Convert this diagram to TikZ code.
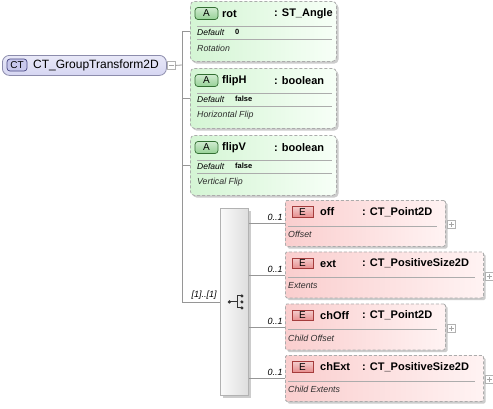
\documentclass[tikz,border=0pt]{standalone}
\usepackage{fontspec}
\setmainfont{Liberation Sans}
\usetikzlibrary{positioning,calc}
\definecolor{rootFill}{RGB}{214,214,242}
\definecolor{rootLine}{RGB}{140,140,172}
\definecolor{ctBadge}{RGB}{200,200,236}
\definecolor{ctLine}{RGB}{70,70,130}
\definecolor{attrL}{RGB}{212,245,212}
\definecolor{attrR}{RGB}{247,255,247}
\definecolor{aBadge}{RGB}{150,210,150}
\definecolor{aLine}{RGB}{50,110,50}
\definecolor{elemL}{RGB}{250,206,206}
\definecolor{elemR}{RGB}{255,243,243}
\definecolor{eBadge}{RGB}{230,140,140}
\definecolor{eLine}{RGB}{165,60,60}
\definecolor{frameLn}{RGB}{172,172,172}
\definecolor{wireLn}{RGB}{150,150,150}
\definecolor{descTxt}{RGB}{45,45,45}
\tikzset{
  wire/.style={line width=0.8pt, wireLn},
  framebox/.style={draw=frameLn, dash pattern=on 3pt off 2pt, line width=0.8pt, inner sep=0pt, anchor=north west},
  attrframe/.style={framebox, rounded corners=4pt, left color=attrL, right color=attrR, minimum width=146pt, minimum height=60pt},
  elemframe/.style={framebox, rounded corners=1.5pt, left color=elemL, right color=elemR, minimum height=46pt},
  boxshadow/.style={fill=black!20},
  sepline/.style={line width=0.6pt, gray!65},
  headtxt/.style={font=\fontsize{11}{13}\selectfont\bfseries, inner sep=0pt, anchor=west},
  dflttxt/.style={font=\fontsize{8.5}{10}\selectfont\itshape, inner sep=0pt, anchor=west},
  valtxt/.style={font=\fontsize{7.5}{9}\selectfont\bfseries, inner sep=0pt, anchor=west},
  desctxt/.style={font=\fontsize{8.8}{10}\selectfont\itshape, descTxt, inner sep=0pt, anchor=west},
  multtxt/.style={font=\fontsize{9}{10}\selectfont\itshape, text=black, inner sep=2pt},
  abadge/.style={draw=aLine, line width=0.7pt, top color=white!55!aBadge, bottom color=aBadge,
    rounded corners=3pt, minimum width=23pt, minimum height=12pt, inner sep=0pt, font=\fontsize{10}{11}\selectfont},
  ebadge/.style={draw=eLine, line width=0.7pt, top color=white!55!eBadge, bottom color=eBadge,
    minimum width=21pt, minimum height=10.5pt, inner sep=0pt, font=\fontsize{10}{11}\selectfont},
  plusbox/.style={draw=gray!60, fill=white, line width=0.6pt, minimum size=8pt, inner sep=0pt},
}
% attribute box: id, top, name, type, default, description
\newcommand{\attrbox}[6]{%
  \begin{scope}[shift={(190,#2)}]
    \fill[boxshadow, rounded corners=4pt] (2.5,2.5) rectangle (148.5,62.5);
    \node[attrframe] (#1) at (0,0) {};
    \node[abadge] (#1-tag) at (16.5,12.5) {A};
    \node[headtxt] (#1-name) at (32,12.5) {#3};
    \node[headtxt] (#1-type) at (84,12.5) {: #4};
    \draw[sepline] (7,25) -- (142,25);
    \node[dflttxt] (#1-dflt) at (7,31.5) {Default};
    \node[valtxt] (#1-val) at (45,31.2) {#5};
    \draw[sepline] (7,38) -- (142,38);
    \node[desctxt] (#1-desc) at (7,47.5) {#6};
  \end{scope}
}
% element box: id, top, width, name, type, description
\newcommand{\elembox}[6]{%
  \begin{scope}[shift={(285,#2)}]
    \fill[boxshadow, rounded corners=1.5pt] (2.5,2.5) rectangle (#3+2.5,48.5);
    \node[elemframe, minimum width=#3pt] (#1) at (0,0) {};
    \node[ebadge] (#1-tag) at (17.5,12) {E};
    \node[headtxt] (#1-name) at (35,12) {#4};
    \node[headtxt] (#1-type) at (77,12) {: #5};
    \draw[sepline] (3,26) -- (#3-8,26);
    \node[desctxt] (#1-desc) at (3,34.5) {#6};
    \node[plusbox] (#1-plus) at (#3+6,24.5) {};
    \draw[line width=0.6pt, gray!70] (#3+3.5,24.5) -- (#3+8.5,24.5) (#3+6,22) -- (#3+6,27);
  \end{scope}
}

\begin{document}
\begin{tikzpicture}[x=1pt, y=-1pt]
  \useasboundingbox[fill=white] (0,0) rectangle (493,408);
  % root complex type
  \node[draw=rootLine, line width=0.8pt, rounded corners=7pt, top color=white!45!rootFill, bottom color=rootFill,
    minimum width=164pt, minimum height=20pt, inner sep=0pt, anchor=north west] (root) at (2,55) {};
  \node[draw=ctLine, line width=0.7pt, fill=ctBadge, rounded corners=3pt, minimum width=20pt, minimum height=12pt,
    inner sep=0pt, font=\fontsize{10}{11}\selectfont] (root-tag) at (17,65) {CT};
  \node[font=\fontsize{12}{14}\selectfont, inner sep=0pt, anchor=west] (root-name) at (33,65) {CT\_GroupTransform2D};
  \node[plusbox, anchor=west] (root-min) at (root.east) {};
  \draw[line width=0.6pt, gray!70] ($(root-min.center)+(-2.5,0)$) -- ($(root-min.center)+(2.5,0)$);
  \coordinate (trunk) at (182,65);
  \draw[wire] (root-min.east) -- (trunk);

  % attributes
  \attrbox{rot}{1}{rot}{ST\_Angle}{0}{Rotation}
  \attrbox{flipH}{68}{flipH}{boolean}{false}{Horizontal Flip}
  \attrbox{flipV}{135}{flipV}{boolean}{false}{Vertical Flip}

  % sequence compositor
  \fill[boxshadow] (222.5,210.5) rectangle (250.5,397.5);
  \node[draw=gray!60, line width=0.8pt, left color=gray!4, right color=gray!26, minimum width=28pt,
    minimum height=187pt, inner sep=0pt, anchor=north west] (seq) at (220,208) {};
  \begin{scope}[shift={(seq.center)}]
    \fill[black!80] (-5,0) circle (1.8pt);
    \draw[black!80, line width=0.9pt] (-5,0) -- (3,0) (3,-6) -- (3,6) (3,-6) -- (7,-6) (3,6) -- (7,6);
    \fill[black!80] (7.5,-6) circle (1.7pt) (7.5,0) circle (1.7pt) (7.5,6) circle (1.7pt);
  \end{scope}

  % child elements
  \elembox{off}{200}{160}{off}{CT\_Point2D}{Offset}
  \elembox{ext}{251.5}{198}{ext}{CT\_PositiveSize2D}{Extents}
  \elembox{chOff}{303.5}{160}{chOff}{CT\_Point2D}{Child Offset}
  \elembox{chExt}{355}{198}{chExt}{CT\_PositiveSize2D}{Child Extents}

  % connectors
  \draw[wire] (trunk |- rot.west) -- (trunk |- seq.west);
  \foreach \a in {rot,flipH,flipV}
    \draw[wire] (trunk |- \a.west) -- (\a.west);
  \draw[wire] (trunk |- seq.west) -- node[multtxt, above, pos=0.58] {[1]..[1]} (seq.west);
  \foreach \e in {off,ext,chOff,chExt}
    \draw[wire] (seq.east |- \e.west) -- node[multtxt, above left, pos=1] {0..1} (\e.west);
\end{tikzpicture}
\end{document}
